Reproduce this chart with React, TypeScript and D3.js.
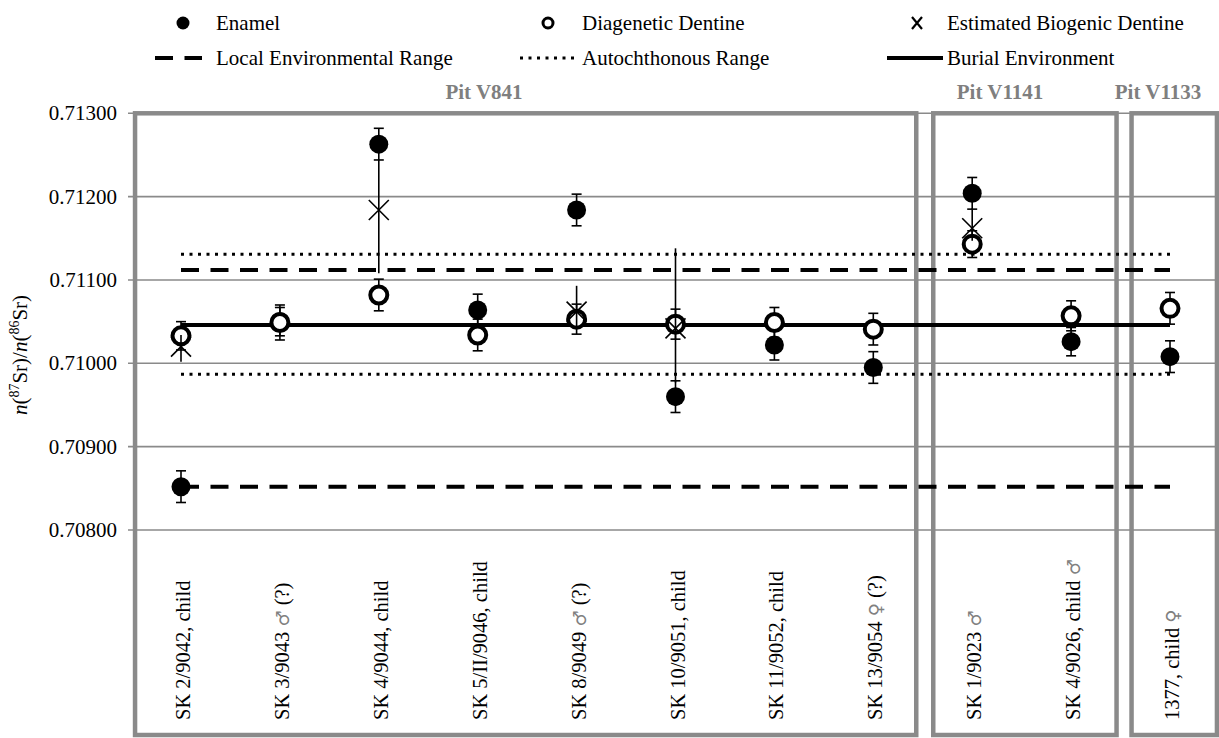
import React, { useEffect, useRef } from 'react';
import * as d3 from 'd3';

// Samples (x axis)
const sampleIds = [
    'SK 2/9042, child', 'SK 3/9043', 'SK 4/9044, child', 'SK 5/II/9046, child', 'SK 8/9049',
    'SK 10/9051, child', 'SK 11/9052, child', 'SK 13/9054', 'SK 1/9023', 'SK 4/9026, child', '1377, child',
];
const sexMarks = ['', '♂', '', '', '♂', '', '', '♀', '♂', '♂', '♀'];
const notes = ['', '(?)', '', '', '(?)', '', '', '(?)', '', '', ''];

// n(87Sr)/n(86Sr) values
const enamel = [0.70852, 0.71050, 0.71263, 0.71064, 0.71184, 0.70960, 0.71022, 0.70995, 0.71204, 0.71026, 0.71008];
const enamelErr = [0.00019, 0.00017, 0.00019, 0.00019, 0.00019, 0.00019, 0.00018, 0.00019, 0.00019, 0.00017, 0.00019];
const dentine = [0.71033, 0.71049, 0.71082, 0.71034, 0.71053, 0.71047, 0.71049, 0.71041, 0.71143, 0.71057, 0.71066];
const dentineErr = [0.00017, 0.00021, 0.00019, 0.00019, 0.00018, 0.00018, 0.00018, 0.00019, 0.00016, 0.00018, 0.00019];
const biogenic: (number | null)[] = [0.71020, null, 0.71184, null, 0.71062, 0.71042, null, null, 0.71162, null, null];
const biogenicErrUp = [0.00014, 0, 0.00060, 0, 0.00031, 0.00096, 0, 0, 0.00024, 0, 0];
const biogenicErrDown = [0.00018, 0, 0.00076, 0, 0.00020, 0.00065, 0, 0, 0.00015, 0, 0];

const burialEnvironment = 0.71046;
const localRange = [0.70852, 0.71112];
const autochthonousRange = [0.70987, 0.71131];

const yTicks = [0.708, 0.709, 0.71, 0.711, 0.712, 0.713];

const pitNames = ['Pit V841', 'Pit V1141', 'Pit V1133'];
const pitFirst = [0, 8, 10];
const pitLast = [7, 9, 10];

const width = 1219;
const height = 738;
const serif = "'Liberation Serif', 'Times New Roman', 'DejaVu Serif', serif";
const gray = '#8a8a8a';

export default function App() {
    const svgRef = useRef<SVGSVGElement | null>(null);

    useEffect(() => {
        const svg = d3.select(svgRef.current)
            .attr('width', width)
            .attr('height', height)
            .style('font-family', serif);
        svg.selectAll('*').remove();

        const x = d3.scalePoint<string>().domain(sampleIds).range([181, 1170]);
        const y = d3.scaleLinear().domain([0.708, 0.713]).range([530, 113.3]);
        const step = x.step();
        const cx = (i: number) => x(sampleIds[i]) as number;

        const plotTop = y(0.713);
        const plotBottom = 735;

        // gridlines + left ticks
        svg.append('g')
            .selectAll('line')
            .data(yTicks)
            .enter()
            .append('line')
            .attr('x1', 128)
            .attr('x2', width)
            .attr('y1', (d) => y(d))
            .attr('y2', (d) => y(d))
            .attr('stroke', gray)
            .attr('stroke-width', 1.6);

        svg.append('g')
            .selectAll('text')
            .data(yTicks)
            .enter()
            .append('text')
            .attr('x', 117)
            .attr('y', (d) => y(d))
            .attr('dy', '0.33em')
            .attr('text-anchor', 'end')
            .style('font-size', '21px')
            .text((d) => d3.format('.5f')(d));

        // pit boxes
        const insets = [[3.5, -6.5], [10.5, -4], [11, -2.5]];
        const pitLabelX = [484, 1000, 1158];
        pitNames.forEach((name, k) => {
            const left = cx(pitFirst[k]) - step / 2 + insets[k][0];
            const right = cx(pitLast[k]) + step / 2 + insets[k][1];
            svg.append('rect')
                .attr('x', left)
                .attr('y', plotTop)
                .attr('width', right - left)
                .attr('height', plotBottom - plotTop)
                .attr('fill', 'none')
                .attr('stroke', gray)
                .attr('stroke-width', 4.5);
            svg.append('text')
                .attr('x', pitLabelX[k])
                .attr('y', 99)
                .attr('text-anchor', 'middle')
                .style('font-weight', 'bold')
                .style('font-size', '21px')
                .attr('fill', '#7f7f7f')
                .text(name);
        });

        // reference lines
        const x0 = cx(0);
        const x1 = cx(sampleIds.length - 1);
        const refLine = (v: number, dash: string | null, w: number) => {
            const l = svg.append('line')
                .attr('x1', x0).attr('x2', x1)
                .attr('y1', y(v)).attr('y2', y(v))
                .attr('stroke', '#000')
                .attr('stroke-width', w);
            if (dash) l.attr('stroke-dasharray', dash);
        };
        autochthonousRange.forEach((v) => refLine(v, '3,5.5', 3));
        localRange.forEach((v) => refLine(v, '18,11.5', 4));
        refLine(burialEnvironment, null, 4);

        // error bar helper
        const errBar = (i: number, top: number, bottom: number, caps: boolean) => {
            const g = svg.append('g').attr('stroke', '#000').attr('stroke-width', 1.6);
            g.append('line').attr('x1', cx(i)).attr('x2', cx(i)).attr('y1', y(top)).attr('y2', y(bottom));
            if (caps) {
                [top, bottom].forEach((v) => {
                    g.append('line')
                        .attr('x1', cx(i) - 5).attr('x2', cx(i) + 5)
                        .attr('y1', y(v)).attr('y2', y(v));
                });
            }
        };

        // enamel
        enamel.forEach((v, i) => {
            errBar(i, v + enamelErr[i], v - enamelErr[i], true);
            svg.append('circle').attr('cx', cx(i)).attr('cy', y(v)).attr('r', 9.5).attr('fill', '#000');
        });

        // diagenetic dentine
        dentine.forEach((v, i) => {
            errBar(i, v + dentineErr[i], v - dentineErr[i], true);
            svg.append('circle')
                .attr('cx', cx(i)).attr('cy', y(v)).attr('r', 8.5)
                .attr('fill', '#fff').attr('stroke', '#000').attr('stroke-width', 4);
        });

        // estimated biogenic dentine
        biogenic.forEach((v, i) => {
            if (v === null) return;
            errBar(i, v + biogenicErrUp[i], v - biogenicErrDown[i], false);
            const s = 10;
            svg.append('path')
                .attr('d', `M${cx(i) - s},${y(v) - s}L${cx(i) + s},${y(v) + s}M${cx(i) - s},${y(v) + s}L${cx(i) + s},${y(v) - s}`)
                .attr('stroke', '#000')
                .attr('stroke-width', 1.6)
                .attr('fill', 'none');
        });

        // category labels
        sampleIds.forEach((id, i) => {
            const t = svg.append('text')
                .attr('transform', `translate(${cx(i) + 9},720) rotate(-90)`)
                .style('font-size', '20.5px')
                .attr('fill', '#000');
            t.append('tspan').text(id);
            if (sexMarks[i]) {
                t.append('tspan').text(' ');
                t.append('tspan')
                    .style('font-family', "'DejaVu Sans', sans-serif")
                    .style('font-size', '18px')
                    .attr('fill', '#808080')
                    .text(sexMarks[i]);
            }
            if (notes[i]) t.append('tspan').text(' ' + notes[i]);
        });

        // y axis title
        const yt = svg.append('text')
            .attr('transform', 'translate(27,355) rotate(-90)')
            .attr('text-anchor', 'middle')
            .style('font-size', '21px');
        yt.append('tspan').style('font-style', 'italic').text('n');
        yt.append('tspan').text('(');
        yt.append('tspan').style('font-size', '14px').attr('dy', -8).text('87');
        yt.append('tspan').attr('dy', 8).text('Sr)/');
        yt.append('tspan').style('font-style', 'italic').text('n');
        yt.append('tspan').text('(');
        yt.append('tspan').style('font-size', '14px').attr('dy', -8).text('86');
        yt.append('tspan').attr('dy', 8).text('Sr)');

        // legend
        const legend = svg.append('g').style('font-size', '21px');
        const row1 = 23;
        const row2 = 58;
        legend.append('circle').attr('cx', 183).attr('cy', row1).attr('r', 6.5).attr('fill', '#000');
        legend.append('circle').attr('cx', 548).attr('cy', row1).attr('r', 5)
            .attr('fill', '#fff').attr('stroke', '#000').attr('stroke-width', 3);
        legend.append('path')
            .attr('d', `M912,${row1 - 6}L922,${row1 + 6}M912,${row1 + 6}L922,${row1 - 6}`)
            .attr('stroke', '#000').attr('stroke-width', 2.2);
        legend.append('line').attr('x1', 155).attr('x2', 202).attr('y1', row2).attr('y2', row2)
            .attr('stroke', '#000').attr('stroke-width', 4).attr('stroke-dasharray', '18,11.5');
        legend.append('line').attr('x1', 520).attr('x2', 577).attr('y1', row2).attr('y2', row2)
            .attr('stroke', '#000').attr('stroke-width', 3).attr('stroke-dasharray', '3,5.5');
        legend.append('line').attr('x1', 887).attr('x2', 943).attr('y1', row2).attr('y2', row2)
            .attr('stroke', '#000').attr('stroke-width', 4);

        const labels: [string, number, number][] = [
            ['Enamel', 216, row1], ['Diagenetic Dentine', 582, row1], ['Estimated Biogenic Dentine', 947, row1],
            ['Local Environmental Range', 216, row2], ['Autochthonous Range', 582, row2], ['Burial Environment', 947, row2],
        ];
        legend.selectAll('text')
            .data(labels)
            .enter()
            .append('text')
            .attr('x', (d) => d[1])
            .attr('y', (d) => d[2])
            .attr('dy', '0.33em')
            .text((d) => d[0]);
    }, []);

    return <svg ref={svgRef} style={{ position: 'absolute', left: 0, top: 0 }}></svg>;
}
